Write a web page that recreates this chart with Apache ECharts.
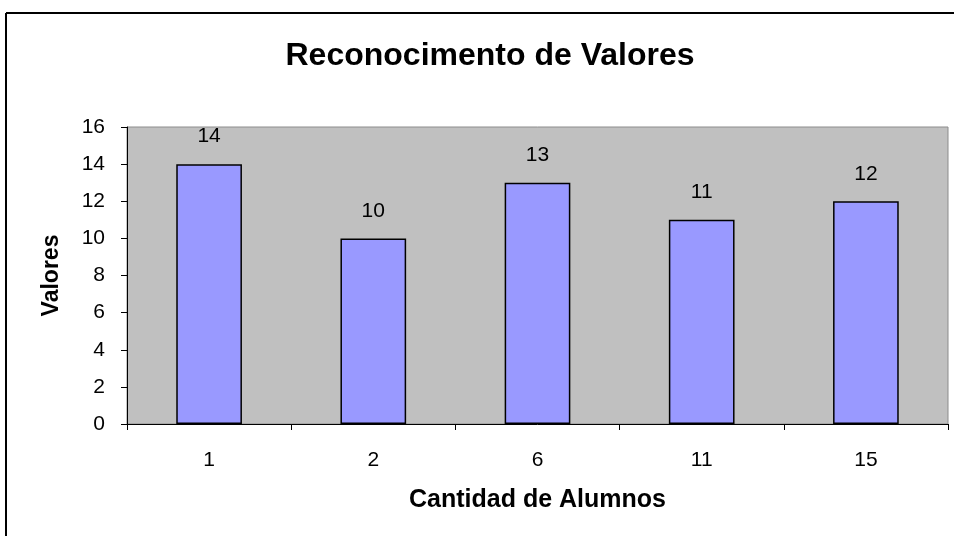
<!DOCTYPE html>
<html>
  <head>
    <meta charset="utf-8" />
    <title>Reconocimento de Valores</title>
    <script src="https://cdn.jsdelivr.net/npm/echarts@6/dist/echarts.min.js"></script>
    <style>
      html, body { margin: 0; padding: 0; background: #fff; }
    </style>
  </head>
  <body>
    <div id="main" style="width: 954px;height:536px;"></div>
    <script type="text/javascript">
      // chart data
      var categories = ['1', '2', '6', '11', '15'];
      var valores = [14, 10, 13, 11, 12];
      var yTicks = [0, 2, 4, 6, 8, 10, 12, 14, 16];

      var myChart = echarts.init(document.getElementById('main'));
      var font = 'Liberation Sans, Arial, sans-serif';

      myChart.setOption({
        animation: false,
        textStyle: { fontFamily: font },
        title: {
          text: 'Reconocimento de Valores',
          left: 485,
          textAlign: 'center',
          top: 35,
          textStyle: { fontSize: 32, fontWeight: 'bold', color: '#000', fontFamily: font }
        },
        // outer frame (only top and left edges show)
        graphic: [
          { type: 'line', shape: { x1: 6, y1: 13, x2: 954, y2: 13 }, style: { stroke: '#000', lineWidth: 2 } },
          { type: 'line', shape: { x1: 6, y1: 13, x2: 6, y2: 536 }, style: { stroke: '#000', lineWidth: 2 } }
        ],
        grid: {
          left: 127,
          right: 6,
          top: 127,
          bottom: 112,
          show: true,
          backgroundColor: '#C0C0C0',
          borderColor: '#8C8C8C',
          borderWidth: 1
        },
        xAxis: {
          type: 'category',
          data: categories,
          name: 'Cantidad de Alumnos',
          nameLocation: 'middle',
          nameGap: 64,
          nameTextStyle: { fontSize: 25, fontWeight: 'bold', color: '#000', fontFamily: font },
          axisLine: { lineStyle: { color: '#000', width: 1 } },
          axisTick: { show: true, length: 6, lineStyle: { color: '#000' } },
          axisLabel: { fontSize: 21, color: '#000', margin: 26, fontFamily: font }
        },
        yAxis: {
          type: 'value',
          min: yTicks[0],
          max: yTicks[yTicks.length - 1],
          interval: 2,
          name: 'Valores',
          nameLocation: 'middle',
          nameGap: 64,
          nameRotate: 90,
          nameTextStyle: { fontSize: 23, fontWeight: 'bold', color: '#000', fontFamily: font },
          axisLine: { show: true, lineStyle: { color: '#000', width: 1 } },
          axisTick: { show: true, length: 6, lineStyle: { color: '#000' } },
          axisLabel: { fontSize: 21, color: '#000', margin: 22, fontFamily: font },
          splitLine: { show: false }
        },
        series: [
          {
            name: 'Valores',
            type: 'bar',
            data: valores,
            barWidth: '40%',
            itemStyle: { color: '#9999FF', borderColor: '#000', borderWidth: 1.5 },
            label: {
              show: true,
              position: 'top',
              distance: 17,
              fontSize: 21,
              color: '#000',
              fontFamily: font
            }
          }
        ]
      });
    </script>
  </body>
</html>
